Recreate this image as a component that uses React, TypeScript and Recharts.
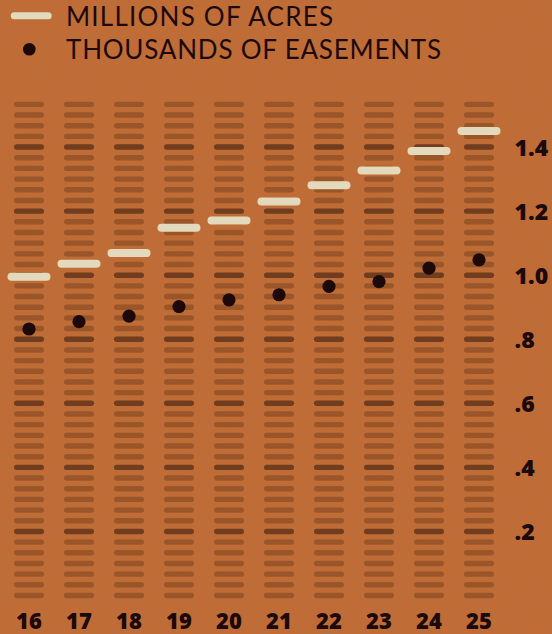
import React from 'react';
import { ComposedChart, Bar, Line, XAxis, YAxis } from 'recharts';

// ---- data ----
const years = ['16', '17', '18', '19', '20', '21', '22', '23', '24', '25'];
const acresMillions = [0.995, 1.036, 1.069, 1.148, 1.171, 1.23, 1.281, 1.327, 1.388, 1.45];
const easementsThousands = [0.832, 0.855, 0.872, 0.902, 0.923, 0.939, 0.965, 0.98, 1.022, 1.048];
const yTickValues = [0.2, 0.4, 0.6, 0.8, 1.0, 1.2, 1.4];
const yTickLabels = ['.2', '.4', '.6', '.8', '1.0', '1.2', '1.4'];
const legendLabels = ['MILLIONS OF ACRES', 'THOUSANDS OF EASEMENTS'];

// decorative stripe grid: 46 steps of 1/30 from 0 up
const STRIPE_ROWS = 46;
const STRIPE_TOP = 46 / 30;
const STRIPE_MAJOR_EVERY = 6;

const data = years.map((y, i) => ({
  year: y,
  acres: acresMillions[i],
  easements: easementsThousands[i],
  stripe: STRIPE_TOP,
}));

const BG = '#c26c35';
const DASH = '#9a5529';
const DASH_DARK = '#703d1f';
const CREAM = '#e3dabd';
const INK = '#1c0908';
const FONT = '"Open Sans", "Noto Sans", sans-serif';
const LEGEND_FONT = 'Lato, "Open Sans", sans-serif';

const StripeShape = (props: any) => {
  const { x, y, width, height } = props;
  if (height == null || !isFinite(height)) return null;
  const step = height / STRIPE_ROWS;
  const rows = [];
  for (let k = 0; k <= STRIPE_ROWS; k++) {
    const yy = y + height - k * step;
    const major = k > 0 && k % STRIPE_MAJOR_EVERY === 0;
    rows.push(
      <rect
        key={k}
        x={x}
        y={yy - 2.7}
        width={width}
        height={5.4}
        rx={2.7}
        ry={2.7}
        fill={major ? DASH_DARK : DASH}
      />
    );
  }
  return <g>{rows}</g>;
};

const AcresDot = (props: any) => {
  const { cx, cy, index } = props;
  if (cx == null || cy == null) return null;
  return (
    <rect key={`acr-${index}`} x={cx - 21.5} y={cy - 4} width={43} height={8} rx={4} ry={4} fill={CREAM} />
  );
};

const EaseDot = (props: any) => {
  const { cx, cy, index } = props;
  if (cx == null || cy == null) return null;
  return <circle key={`eas-${index}`} cx={cx} cy={cy} r={6.6} fill={INK} />;
};

const XTick = (props: any) => {
  const { x, y, payload } = props;
  return (
    <text x={x} y={y + 33} textAnchor="middle" fill={INK} fontFamily={FONT} fontWeight={800} fontSize={22}>
      {payload.value}
    </text>
  );
};

const YTick = (props: any) => {
  const { x, y, payload } = props;
  const idx = yTickValues.findIndex((v) => Math.abs(v - payload.value) < 1e-6);
  const label = idx >= 0 ? yTickLabels[idx] : String(payload.value);
  return (
    <text x={x + 10.5} y={y + 8.5} textAnchor="start" fill={INK} fontFamily={FONT} fontWeight={800} fontSize={23}>
      {label}
    </text>
  );
};

const LegendOverlay = () => (
  <svg width={552} height={72} style={{ position: 'absolute', left: 0, top: 0 }}>
    <rect x={10.7} y={12.2} width={41} height={7} rx={3.5} ry={3.5} fill={CREAM} />
    <text x={66} y={26} fill={INK} fontFamily={LEGEND_FONT} fontSize={26} textLength={267} lengthAdjust="spacing">
      {legendLabels[0]}
    </text>
    <circle cx={29.3} cy={49.3} r={6.3} fill={INK} />
    <text x={66} y={59.3} fill={INK} fontFamily={LEGEND_FONT} fontSize={26} textLength={375} lengthAdjust="spacing">
      {legendLabels[1]}
    </text>
  </svg>
);

const Texture = () => (
  <svg width={552} height={634} style={{ position: 'absolute', left: 0, top: 0 }}>
    <filter id="grain">
      <feTurbulence type="fractalNoise" baseFrequency="0.9" numOctaves={3} seed={4} />
      <feColorMatrix type="matrix" values="0 0 0 0 0.35  0 0 0 0 0.18  0 0 0 0 0.08  0 0 0 -1.6 1.05" />
    </filter>
    <rect width={552} height={634} filter="url(#grain)" opacity={0.3} />
  </svg>
);

export default function App() {
  return (
    <div
      style={{
        position: 'absolute',
        left: 0,
        top: 0,
        width: 552,
        height: 634,
        background: BG,
        overflow: 'hidden',
      }}
    >
      <Texture />
      <div style={{ position: 'absolute', left: 0, top: 0 }}>
        <ComposedChart width={552} height={634} data={data} margin={{ top: 83, right: 0, bottom: 0, left: 4 }}>
          <XAxis
            dataKey="year"
            height={38.5}
            axisLine={false}
            tickLine={false}
            tickSize={0}
            tickMargin={0}
            interval={0}
            tick={<XTick />}
          />
          <YAxis
            orientation="right"
            width={48}
            domain={[0, 1.6]}
            ticks={yTickValues}
            axisLine={false}
            tickLine={false}
            tickSize={0}
            tickMargin={0}
            tick={<YTick />}
          />
          <Bar dataKey="stripe" barSize={30} shape={<StripeShape />} isAnimationActive={false} />
          <Line
            dataKey="acres"
            stroke="none"
            dot={AcresDot}
            activeDot={false}
            isAnimationActive={false}
          />
          <Line
            dataKey="easements"
            stroke="none"
            dot={EaseDot}
            activeDot={false}
            isAnimationActive={false}
          />
        </ComposedChart>
      </div>
      <LegendOverlay />
    </div>
  );
}
